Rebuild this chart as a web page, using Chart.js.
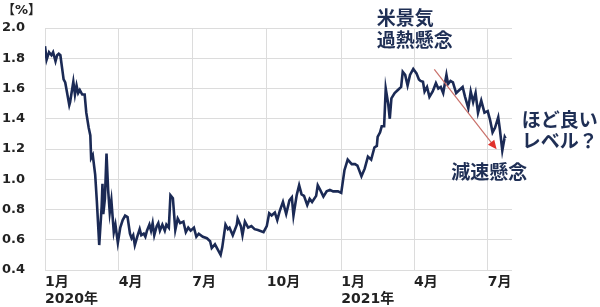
<!DOCTYPE html>
<html><head><meta charset="utf-8">
<script src="https://cdn.jsdelivr.net/npm/chart.js@4"></script>
<style>html,body{margin:0;padding:0;background:#fff}#wrap{width:600px;height:307px;position:relative}</style>
</head><body><div id="wrap"><canvas id="c"></canvas></div>
<script>
// Day offsets from 1 Jan 2020
const days = [
  0,2,5,8,10,13,15,17,19,21,
  23,25,27,30,31,35,37,39,41,43,
  46,49,51,54,56,57,59,62,64,67,
  70,71,72,74,76,78,80,82,85,87,
  90,93,96,99,102,105,107,109,111,114,
  117,119,122,124,126,129,131,133,135,138,
  140,142,145,148,150,153,155,158,161,164,
  167,171,174,177,180,184,187,190,195,200,
  204,206,210,214,217,219,223,226,228,232,
  237,238,242,244,247,251,255,259,263,270,
  274,277,280,284,287,290,294,298,302,305,
  307,311,314,317,320,324,327,330,335,337,
  340,344,348,352,356,362,366,370,374,379,
  383,386,391,395,399,403,407,410,411,414,
  416,419,421,424,426,428,432,436,440,442,
  445,448,451,455,459,462,464,467,469,472,
  475,479,483,486,489,492,496,498,501,504,
  508,512,516,519,523,526,529,532,535,539,
  543,547,550,553,556,560,562,565,568,569
];
// US 10-year yield (%)
const yields = [
  1.88,1.79,1.84,1.82,1.84,1.78,1.82,1.83,1.82,1.74,
  1.66,1.64,1.58,1.49,1.51,1.645,1.56,1.62,1.57,1.59,
  1.56,1.56,1.44,1.34,1.29,1.14,1.16,1.03,0.86,0.565,
  0.82,0.97,0.77,0.87,1.17,0.93,0.78,0.86,0.65,0.70,
  0.58,0.68,0.73,0.76,0.75,0.64,0.61,0.63,0.565,0.62,
  0.67,0.63,0.64,0.62,0.66,0.70,0.66,0.71,0.63,0.69,
  0.71,0.66,0.70,0.66,0.70,0.68,0.895,0.875,0.665,0.74,
  0.71,0.72,0.65,0.68,0.66,0.68,0.62,0.64,0.62,0.61,
  0.59,0.545,0.57,0.53,0.50,0.55,0.70,0.67,0.68,0.63,
  0.70,0.74,0.69,0.63,0.72,0.68,0.69,0.67,0.665,0.65,
  0.69,0.775,0.76,0.78,0.73,0.79,0.85,0.77,0.86,0.88,
  0.76,0.895,0.96,0.90,0.89,0.83,0.87,0.85,0.89,0.96,
  0.93,0.885,0.92,0.93,0.92,0.92,0.91,1.06,1.13,1.10,
  1.10,1.09,1.02,1.07,1.15,1.13,1.21,1.22,1.28,1.31,
  1.35,1.35,1.60,1.50,1.40,1.535,1.57,1.59,1.61,1.71,
  1.69,1.62,1.69,1.73,1.70,1.66,1.65,1.645,1.58,1.61,
  1.545,1.58,1.635,1.60,1.61,1.57,1.69,1.63,1.65,1.64,
  1.57,1.59,1.61,1.545,1.47,1.58,1.51,1.57,1.44,1.52,
  1.44,1.45,1.39,1.31,1.34,1.41,1.33,1.19,1.28,1.27
];
const tickDays = [0,91,182,274,366,456,547];
const tickLabels = [["1月","2020年"],"4月","7月","10月",["1月","2021年"],"4月","7月"];
const yMin = 0.4, yMax = 2.0, yStep = 0.2;
const unitLabel = "【%】";
// annotation texts: [text, day, value]
const noteTexts = ["米景気","過熱懸念","ほど良い","レベル？","減速懸念"];
const noteDays = [410,410,589,589,502];
const noteVals = [2.066,1.921,1.392,1.253,1.048];
const arrowFrom = [481,1.727];
const arrowTo = [558,1.198];

const NAVY = '#1b2a55';
const TEXT = '#1f2f55';
const FONT = "'DejaVu Sans','Noto Sans CJK JP',sans-serif";

const notePlugin = {
  id:'notes',
  afterDatasetsDraw(chart){
    const ctx = chart.ctx, xs = chart.scales.x, ys = chart.scales.y;
    ctx.save();
    // arrow
    const x1 = xs.getPixelForValue(arrowFrom[0]), y1 = ys.getPixelForValue(arrowFrom[1]);
    const x2 = xs.getPixelForValue(arrowTo[0]), y2 = ys.getPixelForValue(arrowTo[1]);
    const ang = Math.atan2(y2-y1, x2-x1);
    ctx.strokeStyle = '#c9706a'; ctx.lineWidth = 1.2;
    ctx.beginPath(); ctx.moveTo(x1,y1);
    ctx.lineTo(x2-7*Math.cos(ang), y2-7*Math.sin(ang)); ctx.stroke();
    ctx.fillStyle = '#e0302a';
    ctx.beginPath(); ctx.moveTo(x2,y2);
    ctx.lineTo(x2-9*Math.cos(ang)+4*Math.sin(ang), y2-9*Math.sin(ang)-4*Math.cos(ang));
    ctx.lineTo(x2-9*Math.cos(ang)-4*Math.sin(ang), y2-9*Math.sin(ang)+4*Math.cos(ang));
    ctx.closePath(); ctx.fill();
    // texts
    ctx.fillStyle = TEXT;
    ctx.font = "bold 19px 'Noto Sans CJK JP',sans-serif";
    ctx.textAlign = 'left'; ctx.textBaseline = 'middle';
    noteTexts.forEach((t,i)=>{
      ctx.fillText(t, xs.getPixelForValue(noteDays[i]), ys.getPixelForValue(noteVals[i]));
    });
    // unit label
    ctx.font = "bold 13px " + FONT;
    ctx.fillStyle = '#222';
    ctx.fillText(unitLabel, 2, 11);
    ctx.restore();
  }
};

new Chart(document.getElementById('c'), {
  type:'line',
  data:{ datasets:[{
    data: days.map((d,i)=>({x:d, y:yields[i]})),
    borderColor: NAVY, borderWidth: 2.6, pointRadius:0, tension:0, fill:false
  }]},
  options:{
    responsive:true, maintainAspectRatio:false, animation:false,
    layout:{padding:{top:28,right:88,left:0,bottom:0}},
    plugins:{legend:{display:false}, tooltip:{enabled:false}},
    scales:{
      x:{
        type:'linear', min:0, max:577,
        afterBuildTicks(s){ s.ticks = tickDays.map(v=>({value:v})); },
        afterFit(s){ s.height = 37; },
        grid:{color:'#dcdcdc', lineWidth:1, drawTicks:false},
        border:{display:false},
        ticks:{
          align:'start', padding:4, maxRotation:0, autoSkip:false,
          color:'#222', font:{family:FONT, size:14, weight:'bold', lineHeight:1.2},
          callback(v){ const i = tickDays.indexOf(v); return i>=0 ? tickLabels[i] : ''; }
        }
      },
      y:{
        min:yMin, max:yMax,
        afterFit(s){ s.width = 45; },
        grid:{color:'#dcdcdc', lineWidth:1, drawTicks:false},
        border:{display:false},
        ticks:{
          stepSize:yStep, padding:20, color:'#222',
          font:{family:FONT, size:13, weight:'bold'},
          callback(v){ return Number(v).toFixed(1); }
        }
      }
    }
  },
  plugins:[notePlugin]
});
</script></body></html>
